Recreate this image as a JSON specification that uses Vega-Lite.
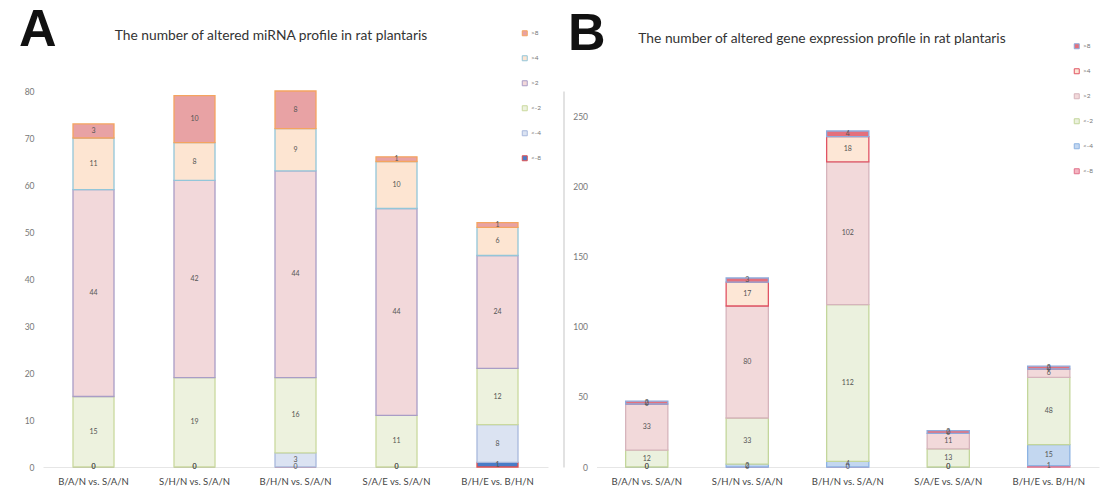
{
  "$schema": "https://vega.github.io/schema/vega-lite/v6.json",
  "padding": {"left": 18, "top": 3, "right": 5, "bottom": 5},
  "background": "white",
  "config": {
    "font": "Lato",
    "view": {"stroke": null},
    "axis": {"grid": false, "ticks": false, "domain": false, "labelColor": "#666"},
    "legend": {"title": null, "symbolType": "square", "symbolSize": 25, "symbolStrokeWidth": 1, "labelFontSize": 6.5, "labelColor": "#777", "rowPadding": 15, "labelOffset": 3}
  },
  "datasets": {
    "a": [
      {"p": "B/A/N vs. S/A/N", "c": "<-8", "k": 1, "v": 0},
      {"p": "B/A/N vs. S/A/N", "c": "<-4", "k": 2, "v": 0},
      {"p": "B/A/N vs. S/A/N", "c": "<-2", "k": 3, "v": 15},
      {"p": "B/A/N vs. S/A/N", "c": ">2", "k": 4, "v": 44},
      {"p": "B/A/N vs. S/A/N", "c": ">4", "k": 5, "v": 11},
      {"p": "B/A/N vs. S/A/N", "c": ">8", "k": 6, "v": 3},
      {"p": "S/H/N vs. S/A/N", "c": "<-8", "k": 1, "v": 0},
      {"p": "S/H/N vs. S/A/N", "c": "<-4", "k": 2, "v": 0},
      {"p": "S/H/N vs. S/A/N", "c": "<-2", "k": 3, "v": 19},
      {"p": "S/H/N vs. S/A/N", "c": ">2", "k": 4, "v": 42},
      {"p": "S/H/N vs. S/A/N", "c": ">4", "k": 5, "v": 8},
      {"p": "S/H/N vs. S/A/N", "c": ">8", "k": 6, "v": 10},
      {"p": "B/H/N vs. S/A/N", "c": "<-8", "k": 1, "v": 0},
      {"p": "B/H/N vs. S/A/N", "c": "<-4", "k": 2, "v": 3},
      {"p": "B/H/N vs. S/A/N", "c": "<-2", "k": 3, "v": 16},
      {"p": "B/H/N vs. S/A/N", "c": ">2", "k": 4, "v": 44},
      {"p": "B/H/N vs. S/A/N", "c": ">4", "k": 5, "v": 9},
      {"p": "B/H/N vs. S/A/N", "c": ">8", "k": 6, "v": 8},
      {"p": "S/A/E vs. S/A/N", "c": "<-8", "k": 1, "v": 0},
      {"p": "S/A/E vs. S/A/N", "c": "<-4", "k": 2, "v": 0},
      {"p": "S/A/E vs. S/A/N", "c": "<-2", "k": 3, "v": 11},
      {"p": "S/A/E vs. S/A/N", "c": ">2", "k": 4, "v": 44},
      {"p": "S/A/E vs. S/A/N", "c": ">4", "k": 5, "v": 10},
      {"p": "S/A/E vs. S/A/N", "c": ">8", "k": 6, "v": 1},
      {"p": "B/H/E vs. B/H/N", "c": "<-8", "k": 1, "v": 1},
      {"p": "B/H/E vs. B/H/N", "c": "<-4", "k": 2, "v": 8},
      {"p": "B/H/E vs. B/H/N", "c": "<-2", "k": 3, "v": 12},
      {"p": "B/H/E vs. B/H/N", "c": ">2", "k": 4, "v": 24},
      {"p": "B/H/E vs. B/H/N", "c": ">4", "k": 5, "v": 6},
      {"p": "B/H/E vs. B/H/N", "c": ">8", "k": 6, "v": 1}
    ],
    "b": [
      {"p": "B/A/N vs. S/A/N", "c": "<-8", "k": 1, "v": 0},
      {"p": "B/A/N vs. S/A/N", "c": "<-4", "k": 2, "v": 0},
      {"p": "B/A/N vs. S/A/N", "c": "<-2", "k": 3, "v": 12},
      {"p": "B/A/N vs. S/A/N", "c": ">2", "k": 4, "v": 33},
      {"p": "B/A/N vs. S/A/N", "c": ">4", "k": 5, "v": 0},
      {"p": "B/A/N vs. S/A/N", "c": ">8", "k": 6, "v": 2},
      {"p": "S/H/N vs. S/A/N", "c": "<-8", "k": 1, "v": 0},
      {"p": "S/H/N vs. S/A/N", "c": "<-4", "k": 2, "v": 2},
      {"p": "S/H/N vs. S/A/N", "c": "<-2", "k": 3, "v": 33},
      {"p": "S/H/N vs. S/A/N", "c": ">2", "k": 4, "v": 80},
      {"p": "S/H/N vs. S/A/N", "c": ">4", "k": 5, "v": 17},
      {"p": "S/H/N vs. S/A/N", "c": ">8", "k": 6, "v": 3},
      {"p": "B/H/N vs. S/A/N", "c": "<-8", "k": 1, "v": 0},
      {"p": "B/H/N vs. S/A/N", "c": "<-4", "k": 2, "v": 4},
      {"p": "B/H/N vs. S/A/N", "c": "<-2", "k": 3, "v": 112},
      {"p": "B/H/N vs. S/A/N", "c": ">2", "k": 4, "v": 102},
      {"p": "B/H/N vs. S/A/N", "c": ">4", "k": 5, "v": 18},
      {"p": "B/H/N vs. S/A/N", "c": ">8", "k": 6, "v": 4},
      {"p": "S/A/E vs. S/A/N", "c": "<-8", "k": 1, "v": 0},
      {"p": "S/A/E vs. S/A/N", "c": "<-4", "k": 2, "v": 0},
      {"p": "S/A/E vs. S/A/N", "c": "<-2", "k": 3, "v": 13},
      {"p": "S/A/E vs. S/A/N", "c": ">2", "k": 4, "v": 11},
      {"p": "S/A/E vs. S/A/N", "c": ">4", "k": 5, "v": 0},
      {"p": "S/A/E vs. S/A/N", "c": ">8", "k": 6, "v": 2},
      {"p": "B/H/E vs. B/H/N", "c": "<-8", "k": 1, "v": 1},
      {"p": "B/H/E vs. B/H/N", "c": "<-4", "k": 2, "v": 15},
      {"p": "B/H/E vs. B/H/N", "c": "<-2", "k": 3, "v": 48},
      {"p": "B/H/E vs. B/H/N", "c": ">2", "k": 4, "v": 6},
      {"p": "B/H/E vs. B/H/N", "c": ">4", "k": 5, "v": 0},
      {"p": "B/H/E vs. B/H/N", "c": ">8", "k": 6, "v": 2}
    ]
  },
  "bounds": "flush",
  "spacing": 48.5,
  "resolve": {"scale": {"fill": "independent", "stroke": "independent", "y": "independent", "x": "independent"}, "legend": {"fill": "independent", "stroke": "independent"}},
  "hconcat": [
    {
      "width": 505,
      "height": 376,
      "data": {"name": "a"},
      "encoding": {
        "x": {"field": "p", "type": "nominal", "sort": null, "title": "The number of altered miRNA profile in rat plantaris", "scale": {"paddingInner": 0.594, "paddingOuter": 0.297}, "axis": {"labelAngle": 0, "labelFontSize": 9.5, "labelColor": "#444", "labelPadding": 9, "domain": true, "domainColor": "#e6e6e6", "titleX": 227.5, "titleY": -432, "titleAlign": "center", "titleBaseline": "middle", "titleFontSize": 13.8, "titleFontWeight": "normal", "titleColor": "#333"}}
      },
      "layer": [
        {
          "mark": {"type": "bar", "strokeWidth": 1.3},
          "encoding": {
            "y": {"field": "v", "type": "quantitative", "stack": "zero", "title": "A", "scale": {"domain": [0, 80], "nice": false}, "axis": {"values": [0, 10, 20, 30, 40, 50, 60, 70, 80], "labelFontSize": 8.5, "labelColor": "#777", "labelPadding": 9, "titleAngle": 0, "titleX": -24.5, "titleY": -87, "titleAlign": "left", "titleBaseline": "top", "titleFont": "Liberation Sans", "titleFontSize": 52, "titleFontWeight": "bold", "titleColor": "#111"}},
            "fill": {"field": "c", "type": "nominal", "scale": {"domain": [">8", ">4", ">2", "<-2", "<-4", "<-8"], "range": ["#e8a2a4", "#fde5d2", "#f2d8da", "#edf2de", "#dbe3f2", "#4a7cc7"]}, "legend": {"orient": "none", "legendX": 478.5, "legendY": -61}},
            "stroke": {"field": "c", "type": "nominal", "scale": {"domain": [">8", ">4", ">2", "<-2", "<-4", "<-8"], "range": ["#f4a460", "#93c6d9", "#a99dc6", "#cad99e", "#a9b9dc", "#e05050"]}, "legend": {"orient": "none", "legendX": 478.5, "legendY": -61}},
            "order": {"field": "k", "type": "quantitative"}
          }
        },
        {
          "mark": {"type": "text", "fontSize": 7, "color": "#555"},
          "encoding": {
            "y": {"field": "v", "type": "quantitative", "stack": "zero", "bandPosition": 0.5},
            "detail": {"field": "c"},
            "order": {"field": "k", "type": "quantitative"},
            "text": {"field": "v", "type": "quantitative"}
          }
        }
      ]
    },
    {
      "width": 502.5,
      "height": 376,
      "data": {"name": "b"},
      "encoding": {
        "x": {"field": "p", "type": "nominal", "sort": null, "title": "The number of altered gene expression profile in rat plantaris", "scale": {"paddingInner": 0.58, "paddingOuter": 0.29}, "axis": {"labelAngle": 0, "labelFontSize": 9.5, "labelColor": "#444", "labelPadding": 9, "domain": true, "domainColor": "#e6e6e6", "titleX": 225, "titleY": -429, "titleAlign": "center", "titleBaseline": "middle", "titleFontSize": 13.8, "titleFontWeight": "normal", "titleColor": "#333"}}
      },
      "layer": [
        {
          "mark": {"type": "bar", "strokeWidth": 1.3},
          "encoding": {
            "y": {"field": "v", "type": "quantitative", "stack": "zero", "title": "B", "scale": {"domain": [0, 268.57], "nice": false}, "axis": {"values": [0, 50, 100, 150, 200, 250], "labelFontSize": 8.5, "labelColor": "#777", "offset": 33, "labelPadding": -24, "domain": true, "domainColor": "#d9d9d9", "domainWidth": 1.5, "titleAngle": 0, "titleX": 4, "titleY": -83, "titleAlign": "left", "titleBaseline": "top", "titleFont": "Liberation Sans", "titleFontSize": 52, "titleFontWeight": "bold", "titleColor": "#111"}},
            "fill": {"field": "c", "type": "nominal", "scale": {"domain": [">8", ">4", ">2", "<-2", "<-4", "<-8"], "range": ["#e4707c", "#fde7d6", "#f2d9da", "#ebf1de", "#c3d7f0", "#f4b6c2"]}, "legend": {"orient": "none", "legendX": 477, "legendY": -48}},
            "stroke": {"field": "c", "type": "nominal", "scale": {"domain": [">8", ">4", ">2", "<-2", "<-4", "<-8"], "range": ["#8eaadb", "#e05464", "#d6b4bc", "#c3d69b", "#8db3e2", "#e0708a"]}, "legend": {"orient": "none", "legendX": 477, "legendY": -48}},
            "order": {"field": "k", "type": "quantitative"}
          }
        },
        {
          "mark": {"type": "text", "fontSize": 7, "color": "#555"},
          "encoding": {
            "y": {"field": "v", "type": "quantitative", "stack": "zero", "bandPosition": 0.5},
            "detail": {"field": "c"},
            "order": {"field": "k", "type": "quantitative"},
            "text": {"field": "v", "type": "quantitative"}
          }
        }
      ]
    }
  ]
}
